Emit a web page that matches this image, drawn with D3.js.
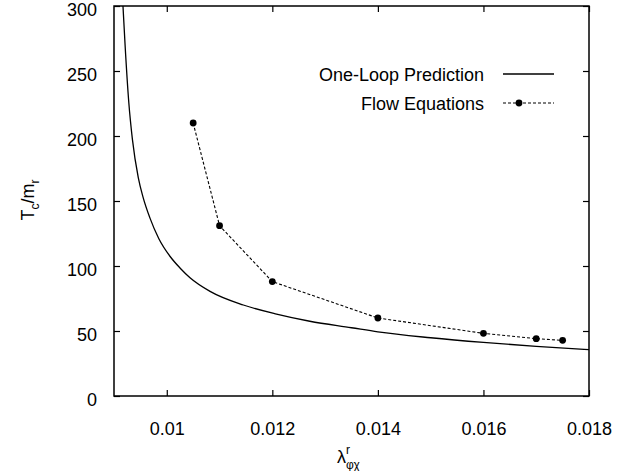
<!DOCTYPE html>
<html>
<head>
<meta charset="utf-8">
<script src="https://cdn.jsdelivr.net/npm/d3@7"></script>
<style>
  body { margin: 0; background: #fff; }
  svg { font-family: "Liberation Sans", Arial, sans-serif; }
</style>
</head>
<body>
<div class="svg-container"></div>
<script>
// values
const xTicks = [0.01, 0.012, 0.014, 0.016, 0.018];
const yTicks = [0, 50, 100, 150, 200, 250, 300];

// one-loop prediction (solid curve)
const oneLoopLambda = [0.00917, 0.00921, 0.00928, 0.00935, 0.00946, 0.00955, 0.00968, 0.00985, 0.01006, 0.01025,
    0.01044, 0.01082, 0.01145, 0.01208, 0.01271, 0.0135, 0.014, 0.015, 0.016, 0.017, 0.018];
const oneLoopT = [300, 270, 226, 197, 168, 153, 137, 121, 107.5, 98.5,
    91, 80.5, 70, 63, 57.5, 52.5, 49.3, 44.8, 41.2, 38.2, 35.6];

// flow equations (dashed with points)
const flowLambda = [0.0105, 0.011, 0.012, 0.014, 0.016, 0.017, 0.0175];
const flowT = [210, 131, 88, 60, 48.2, 44.1, 42.8];

const legendLabels = ['One-Loop Prediction', 'Flow Equations'];

const W = 628, H = 471;
const margin = { top: 6, right: 39, bottom: 75, left: 114 };
const width = W - margin.left - margin.right;
const height = H - margin.top - margin.bottom;

const x = d3.scaleLinear().domain([0.009, 0.018]).range([0, width]);
const y = d3.scaleLinear().domain([0, 300]).range([height, 0]);

const svg = d3.select('.svg-container')
    .append('svg')
    .attr('width', W)
    .attr('height', H);

const g = svg.append('g').attr('transform', `translate(${margin.left},${margin.top})`);

g.append('clipPath').attr('id', 'clip')
    .append('rect').attr('width', width).attr('height', height);

const fmt = d => String(+d.toFixed(3));

// axes with inward ticks
g.append('g')
    .attr('transform', `translate(0,${height})`)
    .call(d3.axisBottom(x).tickValues(xTicks).tickFormat(fmt).tickSize(-6).tickPadding(26));
g.append('g')
    .call(d3.axisTop(x).tickValues(xTicks).tickFormat('').tickSize(-6));
const yAxis = g.append('g')
    .call(d3.axisLeft(y).tickValues(yTicks).tickSize(-6).tickPadding(17));
g.append('g')
    .attr('transform', `translate(${width},0)`)
    .call(d3.axisRight(y).tickValues(yTicks).tickFormat('').tickSize(-6));

g.selectAll('.domain').remove();
g.selectAll('.tick line').attr('stroke', '#000').attr('stroke-width', 1.2);
g.selectAll('.tick text').attr('font-size', 18).attr('fill', '#000')
    .attr('font-family', '"Liberation Sans", Arial, sans-serif');
yAxis.selectAll('.tick text').attr('dy', '0.5em');

g.append('rect')
    .attr('width', width).attr('height', height)
    .attr('fill', 'none').attr('stroke', '#000').attr('stroke-width', 1.5);

// one-loop curve
const oneLoop = oneLoopLambda.map((l, i) => ({ l, t: oneLoopT[i] }));

g.append('path')
    .datum(oneLoop)
    .attr('clip-path', 'url(#clip)')
    .attr('fill', 'none')
    .attr('stroke', '#000')
    .attr('stroke-width', 1.3)
    .attr('d', d3.line().x(d => x(d.l)).y(d => y(d.t)).curve(d3.curveMonotoneX));

// flow equations
const flow = flowLambda.map((l, i) => ({ l, t: flowT[i] }));
g.append('path')
    .datum(flow)
    .attr('fill', 'none')
    .attr('stroke', '#000')
    .attr('stroke-width', 1.1)
    .attr('stroke-dasharray', '3,2')
    .attr('d', d3.line().x(d => x(d.l)).y(d => y(d.t)));

g.selectAll('circle.pt')
    .data(flow)
    .enter()
    .append('circle')
    .attr('class', 'pt')
    .attr('cx', d => x(d.l))
    .attr('cy', d => y(d.t))
    .attr('r', 3.4)
    .attr('fill', '#000');

// legend
const legend = svg.append('g');
legendLabels.forEach((lab, i) => {
    const ly = 74 + i * 29;
    legend.append('text')
        .attr('x', 484).attr('y', ly + 7)
        .attr('text-anchor', 'end')
        .attr('font-size', 18)
        .text(lab);
    legend.append('line')
        .attr('x1', 503).attr('x2', 554)
        .attr('y1', ly).attr('y2', ly)
        .attr('stroke', '#000')
        .attr('stroke-width', i === 0 ? 1.3 : 1.1)
        .attr('stroke-dasharray', i === 0 ? null : '3,2');
    if (i === 1) {
        legend.append('circle').attr('cx', 519).attr('cy', ly).attr('r', 3.4).attr('fill', '#000');
    }
});

// axis titles
const xt = svg.append('text')
    .attr('x', 337).attr('y', 463)
    .attr('font-size', 18);
xt.append('tspan').text('λ');
xt.append('tspan').attr('font-size', 12).attr('dy', -9).text('r');
xt.append('tspan').attr('font-size', 12).attr('dx', -4).attr('dy', 15).text('φχ');

const yt = svg.append('text')
    .attr('transform', 'translate(34,200) rotate(-90)')
    .attr('text-anchor', 'middle')
    .attr('font-size', 18);
yt.append('tspan').text('T');
yt.append('tspan').attr('font-size', 12).attr('dy', 5).text('c');
yt.append('tspan').attr('dy', -5).text('/m');
yt.append('tspan').attr('font-size', 12).attr('dy', 5).text('r');
</script>
</body>
</html>
